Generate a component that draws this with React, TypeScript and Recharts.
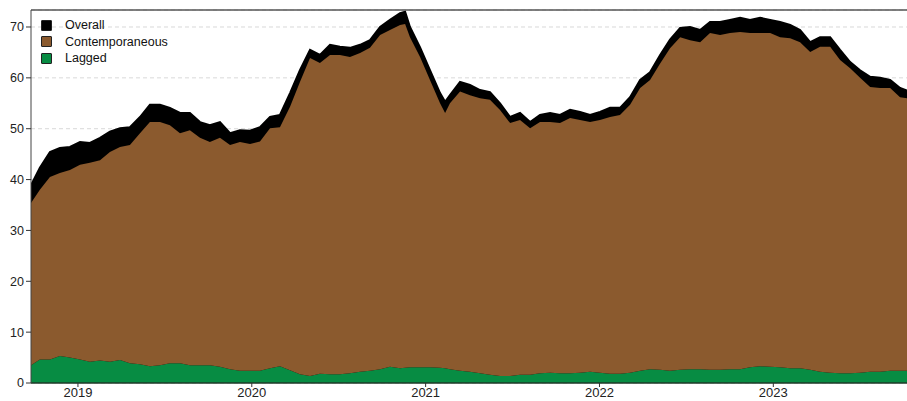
import React from 'react';
import { AreaChart, Area, XAxis, YAxis, CartesianGrid, ReferenceLine } from 'recharts';

// decimal years
const time = [
  2018.730, 2018.781, 2018.839, 2018.896, 2018.954, 2019.012, 2019.069, 2019.127, 2019.184, 2019.242,
  2019.299, 2019.357, 2019.414, 2019.472, 2019.529, 2019.587, 2019.644, 2019.702, 2019.759, 2019.817,
  2019.875, 2019.932, 2019.990, 2020.047, 2020.105, 2020.162, 2020.220, 2020.277, 2020.335, 2020.392,
  2020.450, 2020.507, 2020.565, 2020.623, 2020.680, 2020.738, 2020.795, 2020.853, 2020.882, 2020.910,
  2020.968, 2021.025, 2021.083, 2021.112, 2021.140, 2021.198, 2021.255, 2021.313, 2021.370, 2021.428,
  2021.486, 2021.543, 2021.601, 2021.658, 2021.716, 2021.773, 2021.831, 2021.888, 2021.946, 2022.003,
  2022.061, 2022.118, 2022.176, 2022.234, 2022.291, 2022.349, 2022.406, 2022.464, 2022.521, 2022.579,
  2022.636, 2022.694, 2022.751, 2022.809, 2022.866, 2022.924, 2022.982, 2023.039, 2023.097, 2023.154,
  2023.212, 2023.269, 2023.327, 2023.384, 2023.442, 2023.499, 2023.557, 2023.614, 2023.672, 2023.729,
  2023.769,
];

const overall = [
  38.9, 42.3, 45.4, 46.2, 46.4, 47.4, 47.2, 48.2, 49.4, 50.1,
  50.3, 52.3, 54.7, 54.7, 54.1, 53.1, 53.1, 51.3, 50.7, 51.3,
  49.1, 49.7, 49.6, 50.3, 52.3, 52.7, 57.0, 61.5, 65.5, 64.5,
  66.5, 66.1, 65.9, 66.5, 67.4, 70.0, 71.4, 72.7, 73.0, 70.0,
  66.0, 61.5, 57.0, 55.3, 56.6, 59.2, 58.6, 57.6, 57.2, 55.0,
  52.3, 53.1, 51.3, 52.7, 53.1, 52.7, 53.7, 53.3, 52.7, 53.3,
  54.1, 54.1, 56.2, 59.6, 61.1, 64.5, 67.5, 69.8, 70.0, 69.4,
  71.0, 71.0, 71.4, 71.8, 71.4, 71.8, 71.4, 71.0, 70.4, 69.4,
  67.0, 68.0, 68.0, 65.5, 63.1, 61.5, 60.2, 60.0, 59.6, 58.0,
  57.5,
];

const contemporaneous = [
  31.9, 33.4, 35.9, 36.0, 36.9, 38.3, 39.1, 39.4, 41.2, 41.9,
  42.9, 45.4, 48.0, 47.8, 46.8, 45.2, 46.2, 44.7, 43.9, 45.0,
  44.1, 45.0, 44.6, 45.1, 47.2, 47.0, 51.8, 57.5, 62.5, 61.1,
  62.8, 62.8, 62.2, 62.7, 63.5, 65.7, 66.2, 67.5, 67.6, 64.9,
  61.0, 56.5, 52.0, 50.2, 52.3, 54.9, 54.4, 54.1, 54.1, 52.3,
  49.7, 50.1, 48.5, 49.4, 49.3, 49.2, 50.2, 49.7, 49.1, 49.7,
  50.5, 50.9, 52.7, 55.6, 56.9, 60.2, 63.4, 65.4, 64.7, 64.3,
  66.2, 65.8, 66.1, 66.3, 65.7, 65.5, 65.6, 64.9, 64.9, 64.1,
  62.5, 63.9, 64.1, 61.6, 60.0, 58.0, 56.0, 55.8, 55.6, 53.8,
  53.6,
];

const lagged = [
  3.5, 4.6, 4.6, 5.3, 5.0, 4.6, 4.2, 4.4, 4.2, 4.5,
  3.9, 3.7, 3.3, 3.5, 3.9, 3.9, 3.5, 3.5, 3.5, 3.2,
  2.7, 2.4, 2.4, 2.4, 2.9, 3.3, 2.5, 1.7, 1.4, 1.8,
  1.7, 1.7, 1.9, 2.2, 2.4, 2.7, 3.2, 2.9, 3.0, 3.1,
  3.1, 3.1, 3.0, 2.9, 2.7, 2.4, 2.2, 1.9, 1.6, 1.4,
  1.4, 1.6, 1.6, 1.9, 2.0, 1.9, 1.9, 2.0, 2.2, 2.0,
  1.8, 1.8, 2.0, 2.4, 2.7, 2.6, 2.4, 2.6, 2.7, 2.7,
  2.6, 2.6, 2.7, 2.7, 3.1, 3.3, 3.2, 3.1, 2.9, 2.9,
  2.6, 2.2, 2.0, 1.9, 1.9, 2.0, 2.2, 2.2, 2.4, 2.4,
  2.4,
];

const yearTicks = [2019, 2020, 2021, 2022, 2023];
const valueTicks = [0, 10, 20, 30, 40, 50, 60, 70];

const colors = {
  overall: '#000000',
  contemporaneous: '#8B5A2E',
  lagged: '#078C43',
};

const legendItems = [
  { key: 'overall', label: 'Overall' },
  { key: 'contemporaneous', label: 'Contemporaneous' },
  { key: 'lagged', label: 'Lagged' },
];

const data = time.map((t, i) => ({
  t,
  overall: overall[i],
  contemporaneous: contemporaneous[i],
  lagged: lagged[i],
}));

const font = '"Liberation Sans", Arial, Helvetica, sans-serif';

// legend sits inside the plot, over the grid, no background
const ChartLegend = () => (
  <div
    style={{
      position: 'absolute',
      top: 17,
      left: 41,
      fontFamily: font,
      fontSize: 12.5,
      color: '#111',
      lineHeight: '16.5px',
      pointerEvents: 'none',
    }}
  >
    {legendItems.map(item => (
      <div key={item.key} style={{ display: 'flex', alignItems: 'center' }}>
        <span
          style={{
            display: 'inline-block',
            width: 9,
            height: 9,
            background: colors[item.key],
            border: '0.5px solid #222',
            borderRadius: 1,
            marginRight: 13,
          }}
        />
        <span>{item.label}</span>
      </div>
    ))}
  </div>
);

export default function App() {
  return (
    <div style={{ position: 'absolute', top: 0, left: 0, width: 907, height: 401, overflow: 'hidden', background: '#fff' }}>
      <AreaChart width={907} height={401} data={data} margin={{ top: 10, right: 0, bottom: 0, left: 0 }}>
        <CartesianGrid horizontal vertical={false} stroke="#d9d9d9" strokeDasharray="4 3" />
        <XAxis
          type="number"
          dataKey="t"
          domain={[2018.73, 2023.769]}
          ticks={yearTicks}
          allowDataOverflow
          height={18}
          tickLine={{ stroke: '#333' }}
          axisLine={{ stroke: '#1f3a28', strokeWidth: 1.5 }}
          tickSize={4}
          tick={{ fill: '#222', fontSize: 13, fontFamily: font, dy: -1 }}
        />
        <YAxis
          type="number"
          domain={[0, 73.34]}
          ticks={valueTicks}
          allowDataOverflow
          width={31}
          tickSize={5}
          tickLine={{ stroke: '#333' }}
          axisLine={{ stroke: '#444' }}
          tick={{ fill: '#222', fontSize: 12.5, fontFamily: font }}
        />
        <ReferenceLine y={73.34} stroke="#555" strokeWidth={1.5} />
        <Area
          type="linear"
          dataKey="overall"
          fill={colors.overall}
          fillOpacity={1}
          stroke={colors.overall}
          strokeWidth={2}
          isAnimationActive={false}
        />
        <Area
          type="linear"
          dataKey="lagged"
          stackId="a"
          fill={colors.lagged}
          fillOpacity={1}
          stroke="none"
          isAnimationActive={false}
        />
        <Area
          type="linear"
          dataKey="contemporaneous"
          stackId="a"
          fill={colors.contemporaneous}
          fillOpacity={1}
          stroke="none"
          isAnimationActive={false}
        />
      </AreaChart>
      <ChartLegend />
    </div>
  );
}
